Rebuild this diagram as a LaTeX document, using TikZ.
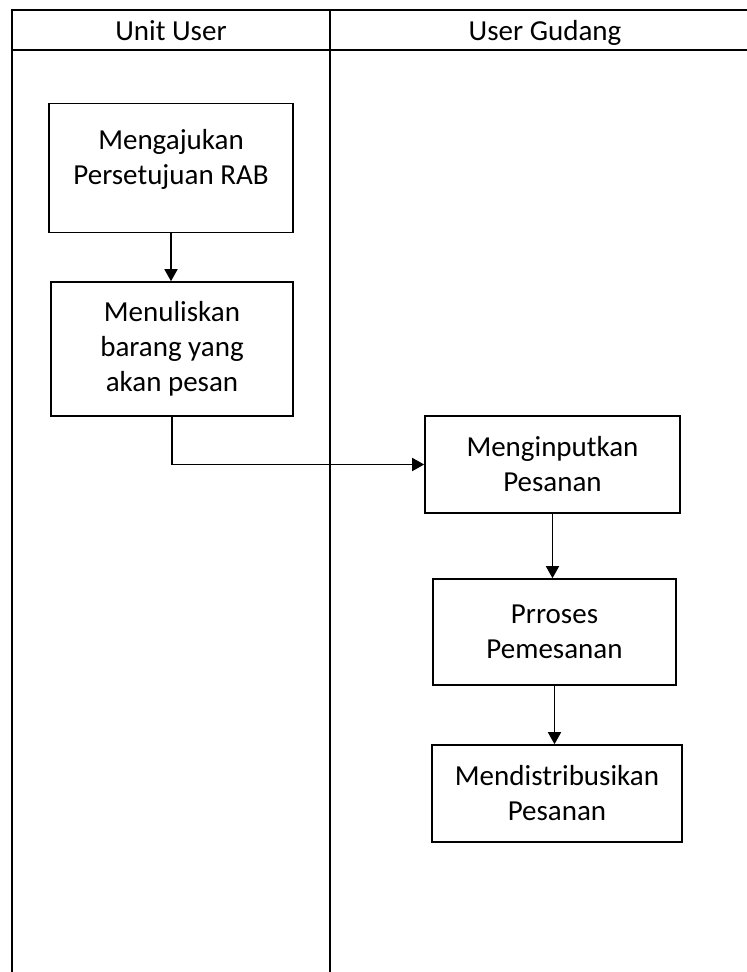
\documentclass[tikz,border=0pt]{standalone}
\usepackage{fontspec}
\setmainfont{Carlito}
\usetikzlibrary{arrows.meta}

\begin{document}
\begin{tikzpicture}[
  x=1pt,
  y=-1pt,
  font=\fontsize{29}{35}\selectfont,
  line/.style={draw=black,line width=1.6pt},
  arrow/.style={line,-{Triangle[length=12pt,width=13pt]}},
  lane/.style={line,line width=1.8pt},
  stepbox/.style={line,align=center,inner sep=4pt}
]
\useasboundingbox (0,0) rectangle (747,972);

% Swimlanes
\draw[lane] (747,10) -- (12,10) -- (12,972);
\draw[lane] (12,50) -- (747,50);
\draw[lane] (330,10) -- (330,972);
\node[anchor=base] (unitlane) at (171,40) {Unit User};
\node[anchor=base] (gudanglane) at (545,40) {User Gudang};

% Unit User
\node[stepbox,minimum width=244pt,minimum height=129pt] (ajukan) at (171,168)
  {Mengajukan\\Persetujuan RAB\\[-13pt]};
\node[stepbox,minimum width=242pt,minimum height=134pt] (tulis) at (172,349)
  {Menuliskan\\barang yang\\akan pesan};

% User Gudang
\node[stepbox,minimum width=255pt,minimum height=97pt] (input) at (552.5,464.5)
  {Menginputkan\\Pesanan};
\node[stepbox,minimum width=243pt,minimum height=106pt] (proses) at (554.5,632)
  {Prroses\\Pemesanan};
\node[stepbox,minimum width=250pt,minimum height=97pt] (distribusi) at (557,793.5)
  {Mendistribusikan\\Pesanan};

% Flow
\draw[arrow] (ajukan.south) -- (ajukan.south |- tulis.north);
\draw[arrow] (tulis.south) |- (input.west);
\draw[arrow] (input.south) -- (input.south |- proses.north);
\draw[arrow] (proses.south) -- (proses.south |- distribusi.north);

\end{tikzpicture}
\end{document}
